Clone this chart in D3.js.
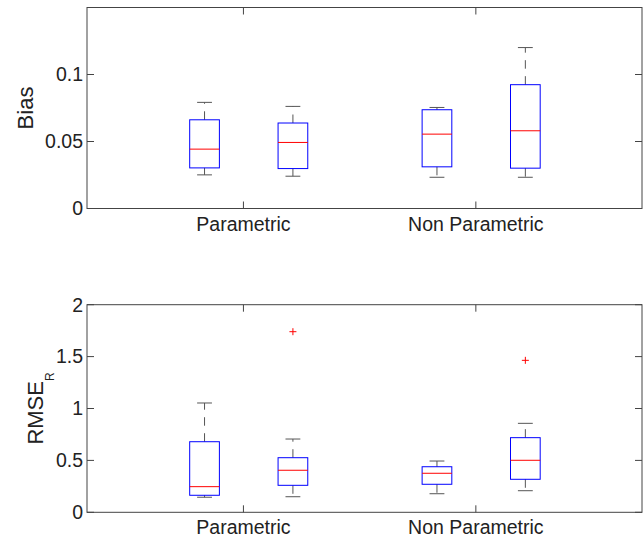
<!DOCTYPE html>
<html>
<head>
<meta charset="utf-8">
<script src="https://cdn.jsdelivr.net/npm/d3@7/dist/d3.min.js"></script>
<style>
  body { margin: 0; background: #fff; }
  svg { display: block; }
  text { font-family: "Liberation Sans", Arial, sans-serif; fill: #222; }
</style>
</head>
<body>
<div class="chart"></div>
<script>
'use strict';

// groups and box positions (x data units)
var GROUPS = ['Parametric', 'Non Parametric'];
var GROUP_TICKS = [1.77, 4.40];
var BOX_POS = [1.33, 2.33, 3.96, 4.96];

// Bias panel: whisker ends, quartiles, medians
var biasLower = [0.0251, 0.0241, 0.0233, 0.0233];
var biasQ1 = [0.0303, 0.0298, 0.0311, 0.0301];
var biasMedian = [0.0443, 0.0493, 0.0555, 0.0580];
var biasQ3 = [0.0662, 0.0638, 0.0737, 0.0924];
var biasUpper = [0.0792, 0.0762, 0.0754, 0.1201];
var biasOutliers = [[], [], [], []];
var biasTicks = [0, 0.05, 0.1];
var biasTickLabels = ['0', '0.05', '0.1'];

// RMSE_R panel
var rmseLower = [0.145, 0.150, 0.179, 0.208];
var rmseQ1 = [0.164, 0.260, 0.270, 0.318];
var rmseMedian = [0.247, 0.405, 0.376, 0.501];
var rmseQ3 = [0.680, 0.526, 0.439, 0.719];
var rmseUpper = [1.053, 0.706, 0.494, 0.857];
var rmseOutliers = [[], [1.740], [], [1.464]];
var rmseTicks = [0, 0.5, 1, 1.5, 2];
var rmseTickLabels = ['0', '0.5', '1', '1.5', '2'];

var WIDTH = 644, HEIGHT = 541;
var AX_LEFT = 87, AX_RIGHT = 642;
var BOX_W = 0.336;
var TICK_LEN = 7;
var AXIS_COLOR = '#444';

var svg = d3.select('.chart').append('svg')
  .attr('width', WIDTH)
  .attr('height', HEIGHT);

var x = d3.scaleLinear().domain([0, 6.28]).range([AX_LEFT, AX_RIGHT]);

function buildBoxes(lower, q1, med, q3, upper, outliers) {
  return BOX_POS.map(function(p, i) {
    return { pos: p, lower: lower[i], q1: q1[i], med: med[i], q3: q3[i], upper: upper[i], out: outliers[i] };
  });
}

function drawPanel(opts) {
  var y = d3.scaleLinear().domain(opts.domain).range([opts.bottom, opts.top]);
  var g = svg.append('g');

  // whiskers (dashed, starting at the box)
  opts.boxes.forEach(function(d) {
    var cx = x(d.pos);
    [[d.q3, d.upper], [d.q1, d.lower]].forEach(function(w) {
      g.append('line')
        .attr('x1', cx).attr('x2', cx)
        .attr('y1', y(w[0])).attr('y2', y(w[1]))
        .attr('stroke', '#555')
        .attr('stroke-width', 1)
        .attr('stroke-dasharray', '8.5,7.5');
      // cap
      var half = (x(BOX_W) - x(0)) / 4;
      g.append('line')
        .attr('x1', cx - half).attr('x2', cx + half)
        .attr('y1', y(w[1])).attr('y2', y(w[1]))
        .attr('stroke', '#555')
        .attr('stroke-width', 1);
    });
  });

  // boxes
  g.selectAll('rect.box')
    .data(opts.boxes)
    .enter()
    .append('rect')
    .classed('box', true)
    .attr('x', function(d) { return x(d.pos - BOX_W / 2); })
    .attr('width', x(BOX_W) - x(0))
    .attr('y', function(d) { return y(d.q3); })
    .attr('height', function(d) { return y(d.q1) - y(d.q3); })
    .attr('fill', 'none')
    .attr('stroke', '#0000ff')
    .attr('stroke-width', 1);

  // medians
  g.selectAll('line.median')
    .data(opts.boxes)
    .enter()
    .append('line')
    .classed('median', true)
    .attr('x1', function(d) { return x(d.pos - BOX_W / 2); })
    .attr('x2', function(d) { return x(d.pos + BOX_W / 2); })
    .attr('y1', function(d) { return y(d.med); })
    .attr('y2', function(d) { return y(d.med); })
    .attr('stroke', '#ff0000')
    .attr('stroke-width', 1);

  // outliers as red plus signs
  opts.boxes.forEach(function(d) {
    d.out.forEach(function(v) {
      var cx = x(d.pos), cy = y(v);
      g.append('path')
        .attr('d', 'M' + (cx - 3.5) + ',' + cy + 'h7M' + cx + ',' + (cy - 3.5) + 'v7')
        .attr('stroke', '#ff0000')
        .attr('stroke-width', 1)
        .attr('fill', 'none');
    });
  });

  // frame
  g.append('rect')
    .attr('x', AX_LEFT).attr('y', opts.top)
    .attr('width', AX_RIGHT - AX_LEFT).attr('height', opts.bottom - opts.top)
    .attr('fill', 'none')
    .attr('stroke', AXIS_COLOR)
    .attr('stroke-width', 1);

  // inside ticks, all four sides
  opts.ticks.forEach(function(t) {
    g.append('line')
      .attr('x1', AX_LEFT).attr('x2', AX_LEFT + TICK_LEN)
      .attr('y1', y(t)).attr('y2', y(t))
      .attr('stroke', AXIS_COLOR);
    g.append('line')
      .attr('x1', AX_RIGHT).attr('x2', AX_RIGHT - TICK_LEN)
      .attr('y1', y(t)).attr('y2', y(t))
      .attr('stroke', AXIS_COLOR);
  });
  GROUP_TICKS.forEach(function(t) {
    g.append('line')
      .attr('x1', x(t)).attr('x2', x(t))
      .attr('y1', opts.bottom).attr('y2', opts.bottom - TICK_LEN)
      .attr('stroke', AXIS_COLOR);
    g.append('line')
      .attr('x1', x(t)).attr('x2', x(t))
      .attr('y1', opts.top).attr('y2', opts.top + TICK_LEN)
      .attr('stroke', AXIS_COLOR);
  });

  // tick labels
  g.selectAll('text.ytick')
    .data(opts.ticks)
    .enter()
    .append('text')
    .classed('ytick', true)
    .attr('x', AX_LEFT - 4)
    .attr('y', function(d) { return y(d); })
    .attr('dy', '0.35em')
    .attr('text-anchor', 'end')
    .style('font-size', '19.5px')
    .text(function(d, i) { return opts.tickLabels[i]; });

  g.selectAll('text.xtick')
    .data(GROUP_TICKS)
    .enter()
    .append('text')
    .classed('xtick', true)
    .attr('x', function(d) { return x(d); })
    .attr('y', opts.bottom + 22)
    .attr('text-anchor', 'middle')
    .style('font-size', '19.5px')
    .text(function(d, i) { return GROUPS[i]; });

  // y label
  var label = g.append('text')
    .attr('transform', 'translate(' + opts.labelX + ',' + ((opts.top + opts.bottom) / 2) + ') rotate(-90)')
    .attr('text-anchor', 'middle')
    .style('font-size', '22px');
  label.append('tspan').text(opts.label);
  if (opts.sub) {
    label.append('tspan')
      .attr('dy', 11)
      .style('font-size', '12px')
      .text(opts.sub);
  }
}

drawPanel({
  top: 7.5, bottom: 208.5, domain: [0, 0.15],
  boxes: buildBoxes(biasLower, biasQ1, biasMedian, biasQ3, biasUpper, biasOutliers),
  ticks: biasTicks, tickLabels: biasTickLabels,
  label: 'Bias', labelX: 33
});

drawPanel({
  top: 304.7, bottom: 512.3, domain: [0, 2],
  boxes: buildBoxes(rmseLower, rmseQ1, rmseMedian, rmseQ3, rmseUpper, rmseOutliers),
  ticks: rmseTicks, tickLabels: rmseTickLabels,
  label: 'RMSE', sub: 'R', labelX: 43
});
</script>
</body>
</html>
